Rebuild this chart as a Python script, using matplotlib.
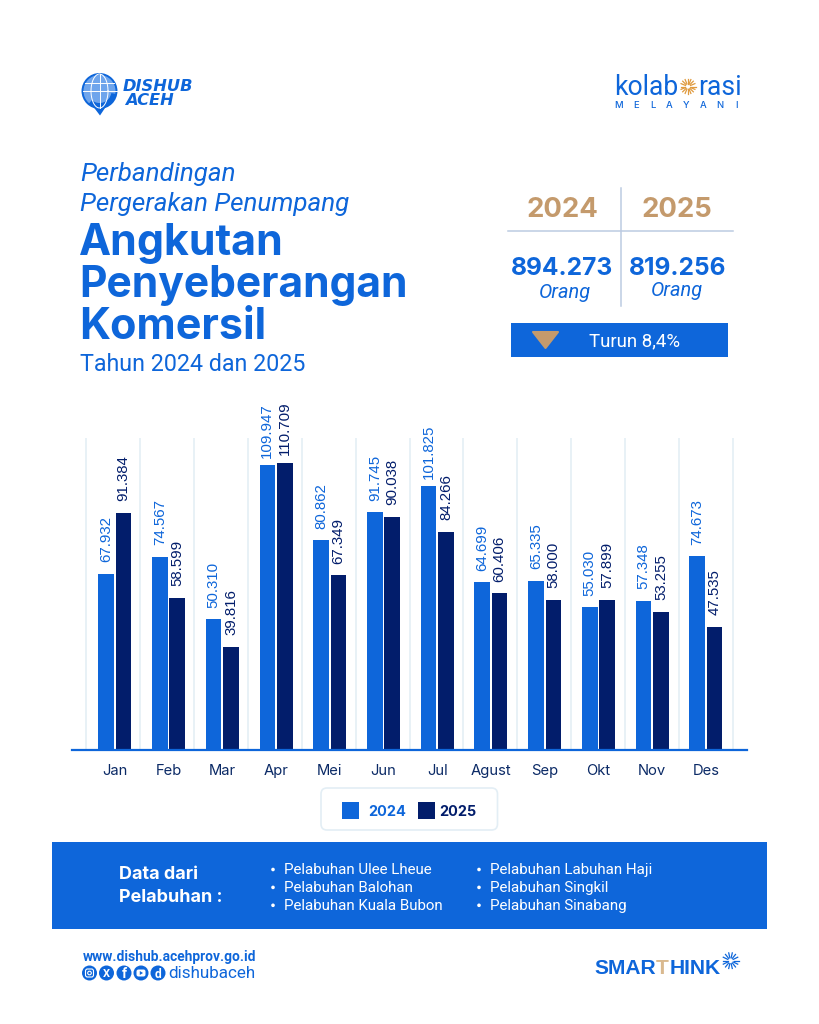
import numpy as np
import matplotlib
matplotlib.use("Agg")
import matplotlib.pyplot as plt
from matplotlib.patches import Rectangle, Circle, FancyBboxPatch, Polygon, Wedge

months = ["Jan","Feb","Mar","Apr","Mei","Jun","Jul","Agust","Sep","Okt","Nov","Des"]
v2024 = [67932,74567,50310,109947,80862,91745,101825,64699,65335,55030,57348,74673]
v2025 = [91384,58599,39816,110709,67349,90038,84266,60406,58000,57899,53255,47535]
ports_left = ["Pelabuhan Ulee Lheue","Pelabuhan Balohan","Pelabuhan Kuala Bubon"]
ports_right = ["Pelabuhan Labuhan Haji","Pelabuhan Singkil","Pelabuhan Sinabang"]
total_2024 = "894.273"
total_2025 = "819.256"

BLUE = "#0E66DA"
NAVY = "#021D6B"
TAN = "#C49A6C"
GRID = "#E6F0F6"
FONT = "Inter"

W, H = 819, 1024
fig = plt.figure(figsize=(W/100, H/100), dpi=100, facecolor="white")

ov = fig.add_axes([0, 0, 1, 1], zorder=0)
ov.set_xlim(0, W); ov.set_ylim(H, 0); ov.axis("off")

def T(x, y, s, px, color=BLUE, weight="normal", style="normal", ha="left", va="baseline", family=FONT, **kw):
    return ov.text(x, y, s, fontsize=px*0.72, color=color, fontweight=weight, fontstyle=style,
                   ha=ha, va=va, family=family, **kw)

# chart axes
L, R, TOP, BOT = 72, 747, 438, 749.5
ax = fig.add_axes([L/W, 1-BOT/H, (R-L)/W, (BOT-TOP)/H], zorder=2)
ax.patch.set_alpha(0)
x0 = 114.8; step = 53.74
ax.set_xlim((L-x0)/step, (R-x0)/step)
ax.set_ylim(0, (BOT-TOP)/2.585*1000)
xs = np.arange(len(months))
for sp in ["top","left","right"]:
    ax.spines[sp].set_visible(False)
ax.spines["bottom"].set_color(BLUE); ax.spines["bottom"].set_linewidth(1.6)
grid_x = (86 + 53.92*np.arange(len(months)+1) - x0)/step
ax.vlines(grid_x, 0, ax.get_ylim()[1], color=GRID, lw=1.3, zorder=1)
bw = 15.6/step; off = 8.7/step
ax.bar(xs-off, v2024, bw, color=BLUE, zorder=2)
ax.bar(xs+off, v2025, bw, color=NAVY, zorder=2)
def fmt(v):
    return f"{v:,}".replace(",", ".")
for i in xs:
    ax.annotate(fmt(v2024[i]), (i-off, v2024[i]), xytext=(0, 25), textcoords="offset points", rotation=90,
                ha="center", va="center", fontsize=10.8, color=BLUE, family="Liberation Sans", annotation_clip=False)
    ax.annotate(fmt(v2025[i]), (i+off, v2025[i]), xytext=(0, 25), textcoords="offset points", rotation=90,
                ha="center", va="center", fontsize=10.8, color=NAVY, family="Liberation Sans", annotation_clip=False)
ax.set_yticks([])
ax.set_xticks(xs, months, fontsize=10.65, color="#0B2A66", family=FONT, va="baseline")
ax.tick_params(axis="x", length=0, pad=18.7)

# title block
T(80, 181, "Perbandingan", 26, style="italic", family="Roboto")
T(80, 211, "Pergerakan Penumpang", 26, style="italic", family="Roboto")
T(79, 255, "Angkutan", 43, weight="bold")
T(79, 297, "Penyeberangan", 42.6, weight="bold")
T(79, 339, "Komersil", 43, weight="bold")
T(80, 371, "Tahun 2024 dan 2025", 23.2, family="Roboto")

# summary table
ov.plot([621, 621], [188, 306], color="#BCCBE2", lw=1.1)
ov.plot([508, 733], [231, 231], color="#BCCBE2", lw=1.1)
T(562.5, 217, "2024", 27.5, color=TAN, weight="bold", ha="center")
T(676.5, 217, "2025", 27.5, color=TAN, weight="bold", ha="center")
T(562.5, 275, total_2024, 24.5, weight="bold", ha="center")
T(678, 275, total_2025, 24.5, weight="bold", ha="center")
T(564.5, 297.5, "Orang", 20, style="italic", ha="center", family="Roboto")
T(676.5, 296.5, "Orang", 20, style="italic", ha="center", family="Roboto")
ov.add_patch(Rectangle((511, 323), 217, 33.5, color=BLUE, lw=0))
ov.add_patch(Polygon([[533, 332], [558, 332], [545.5, 348]], closed=True, fc=TAN, ec=TAN, lw=1.5, joinstyle="round"))
T(634.5, 346.5, "Turun 8,4%", 18.6, color="white", ha="center", family="Roboto")

# legend
ov.add_patch(FancyBboxPatch((321, 788), 176.5, 42, boxstyle="round,pad=0,rounding_size=6", fc="white", ec="#E3EEF5", lw=1.2))
ov.add_patch(Rectangle((342, 802), 17, 16.5, color=BLUE, lw=0))
ov.add_patch(Rectangle((418, 802), 17, 16.5, color=NAVY, lw=0))
T(387, 816, "2024", 14.5, weight="bold", ha="center")
T(458, 816, "2025", 14.5, color=NAVY, weight="bold", ha="center")

# ports band
ov.add_patch(Rectangle((52, 842), 715, 87, color=BLUE, lw=0))
T(119, 879, "Data dari", 18, color="white", weight="bold")
T(119, 902, "Pelabuhan :", 18, color="white", weight="bold")
for i, (a, b) in enumerate(zip(ports_left, ports_right)):
    y = 874 + i*17.9
    T(284, y, a, 15.1, color="white", family="Roboto")
    T(490, y, b, 15.1, color="white", family="Roboto")
    ov.add_patch(Circle((273, y-4.5), 1.8, color="white", lw=0))
    ov.add_patch(Circle((479, y-4.5), 1.8, color="white", lw=0))

# Dishub logo
cx, cy, r = 99.5, 91, 17
ov.add_patch(Polygon([[92, 105], [107, 105], [100, 115.5]], closed=True, color=BLUE, lw=0))
ov.add_patch(Circle((cx, cy), r, fc="#6FA5EC", ec=BLUE, lw=1.4))
t = np.linspace(0, 2*np.pi, 60)
ov.plot(cx + r*0.5*np.cos(t), cy + r*np.sin(t), color="white", lw=0.7)
ov.plot([cx, cx], [cy-r, cy+r], color="white", lw=0.7)
ov.plot([cx-r, cx+r], [cy, cy], color="white", lw=0.7)
ov.plot([cx-14.5, cx+14.5], [cy-8.5, cy-8.5], color="white", lw=0.7)
ov.add_patch(Wedge((cx, cy), r, 10, 130, width=5, color=BLUE, lw=0))
T(122.5, 91, "DISHUB", 16.3, weight="bold", style="italic", family="DejaVu Sans")
T(125.5, 105, "ACEH", 16.3, weight="bold", style="italic", family="DejaVu Sans")

# kolaborasi logo
T(614.5, 95, "kolab", 26.5, family="Roboto")
T(698, 95, "rasi", 26.5, family="Roboto")
for a in np.linspace(0, 2*np.pi, 16, endpoint=False):
    ov.plot([688+2.8*np.cos(a), 688+7.5*np.cos(a)], [86.5+2.8*np.sin(a), 86.5+7.5*np.sin(a)], color="#E09A3E", lw=0.9)
for ch, x in zip("MELAYANI", np.linspace(619, 737, 8)):
    T(x, 107.5, ch, 9.5, color=BLUE, weight="medium", ha="center")

# footer
T(83, 960.5, "www.dishub.acehprov.go.id", 13.7, color=BLUE, weight="bold", family="Roboto")
centers = [89.5, 106.5, 124, 141, 158]
for c in centers:
    ov.add_patch(Circle((c, 973), 7.5, color=BLUE, lw=0))
ov.add_patch(FancyBboxPatch((85.5, 969), 8, 8, boxstyle="round,pad=0,rounding_size=2", fc="none", ec="white", lw=0.8))
ov.add_patch(Circle((89.5, 973), 1.8, fc="none", ec="white", lw=0.8))
T(106.5, 977, "X", 11, color="white", weight="bold", ha="center", family="Roboto")
T(124, 978, "f", 14, color="white", weight="bold", ha="center", family="Roboto")
ov.add_patch(FancyBboxPatch((136.5, 969.5), 9, 7, boxstyle="round,pad=0,rounding_size=2", fc="white", ec="none"))
ov.add_patch(Polygon([[139.8, 971], [139.8, 975], [143, 973]], closed=True, color=BLUE, lw=0))
T(158, 977.5, "d", 12, color="white", weight="bold", ha="center", family="Roboto")
T(168, 978, "dishubaceh", 17, family="Roboto")
T(594, 974, "SMAR", 21, weight="bold", color=BLUE, family="Liberation Sans")
T(656, 974, "T", 21, weight="bold", color="#D9B98F", family="Liberation Sans")
T(670, 974, "HINK", 21, weight="bold", color=BLUE, family="Liberation Sans")
for a in np.linspace(0, 2*np.pi, 14, endpoint=False):
    ov.plot([730.5+3*np.cos(a), 730.5+8*np.cos(a)], [960.7+3*np.sin(a), 960.7+8*np.sin(a)], color=BLUE, lw=0.9)

fig.savefig("out.png", dpi=100, facecolor="white")
